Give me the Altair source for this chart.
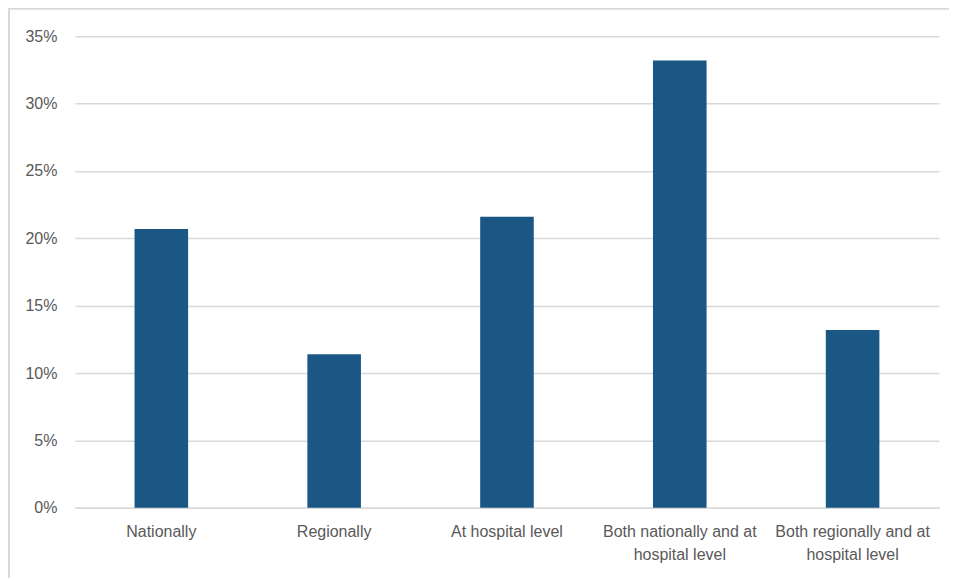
import altair as alt
import pandas as pd

categories = [
    "Nationally",
    "Regionally",
    "At hospital level",
    "Both nationally and at|hospital level",
    "Both regionally and at|hospital level",
]
values = [0.207, 0.114, 0.216, 0.332, 0.132]

df = pd.DataFrame({"cat": categories, "val": values})

FONT = "Liberation Sans"
GRAY = "#595959"

bars = alt.Chart(df).mark_bar(color="#1A5785", clip=False).encode(
    x=alt.X(
        "cat:N",
        sort=categories,
        title=None,
        scale=alt.Scale(paddingInner=0.69, paddingOuter=0.345),
        axis=alt.Axis(
            labelAngle=0,
            labelExpr="split(datum.label, '|')",
            labelFont=FONT,
            labelFontSize=16,
            labelColor=GRAY,
            labelPadding=16,
            labelLineHeight=23,
            ticks=False,
            domain=True,
            domainColor="#d9d9d9",
            domainWidth=1.5,
            grid=False,
            labelLimit=300,
        ),
    ),
    y=alt.Y(
        "val:Q",
        title=None,
        scale=alt.Scale(domain=[0, 0.35], nice=False),
        axis=alt.Axis(
            format=".0%",
            values=[0, 0.05, 0.10, 0.15, 0.20, 0.25, 0.30, 0.35],
            labelFont=FONT,
            labelFontSize=16,
            labelColor=GRAY,
            labelPadding=18,
            ticks=False,
            domain=False,
            grid=True,
            gridColor="#d9d9d9",
            gridWidth=1.5,
        ),
    ),
)

frame_top = alt.Chart(df).mark_rule(color="#d9d9d9", strokeWidth=2, clip=False).encode(
    x=alt.value(-66), x2=alt.value(900), y=alt.value(-28)
)
frame_left = alt.Chart(df).mark_rule(color="#d9d9d9", strokeWidth=2, clip=False).encode(
    x=alt.value(-66), y=alt.value(-28), y2=alt.value(600)
)

chart = alt.layer(bars, frame_top, frame_left).properties(
    width=865,
    height=472,
    background="white",
    autosize=alt.AutoSizeParams(type="none"),
    padding={"left": 67, "top": 28, "right": 10, "bottom": 70},
).configure_view(strokeWidth=0, stroke=None)

chart.save("out.html", embed_options={"renderer": "svg", "actions": False})
